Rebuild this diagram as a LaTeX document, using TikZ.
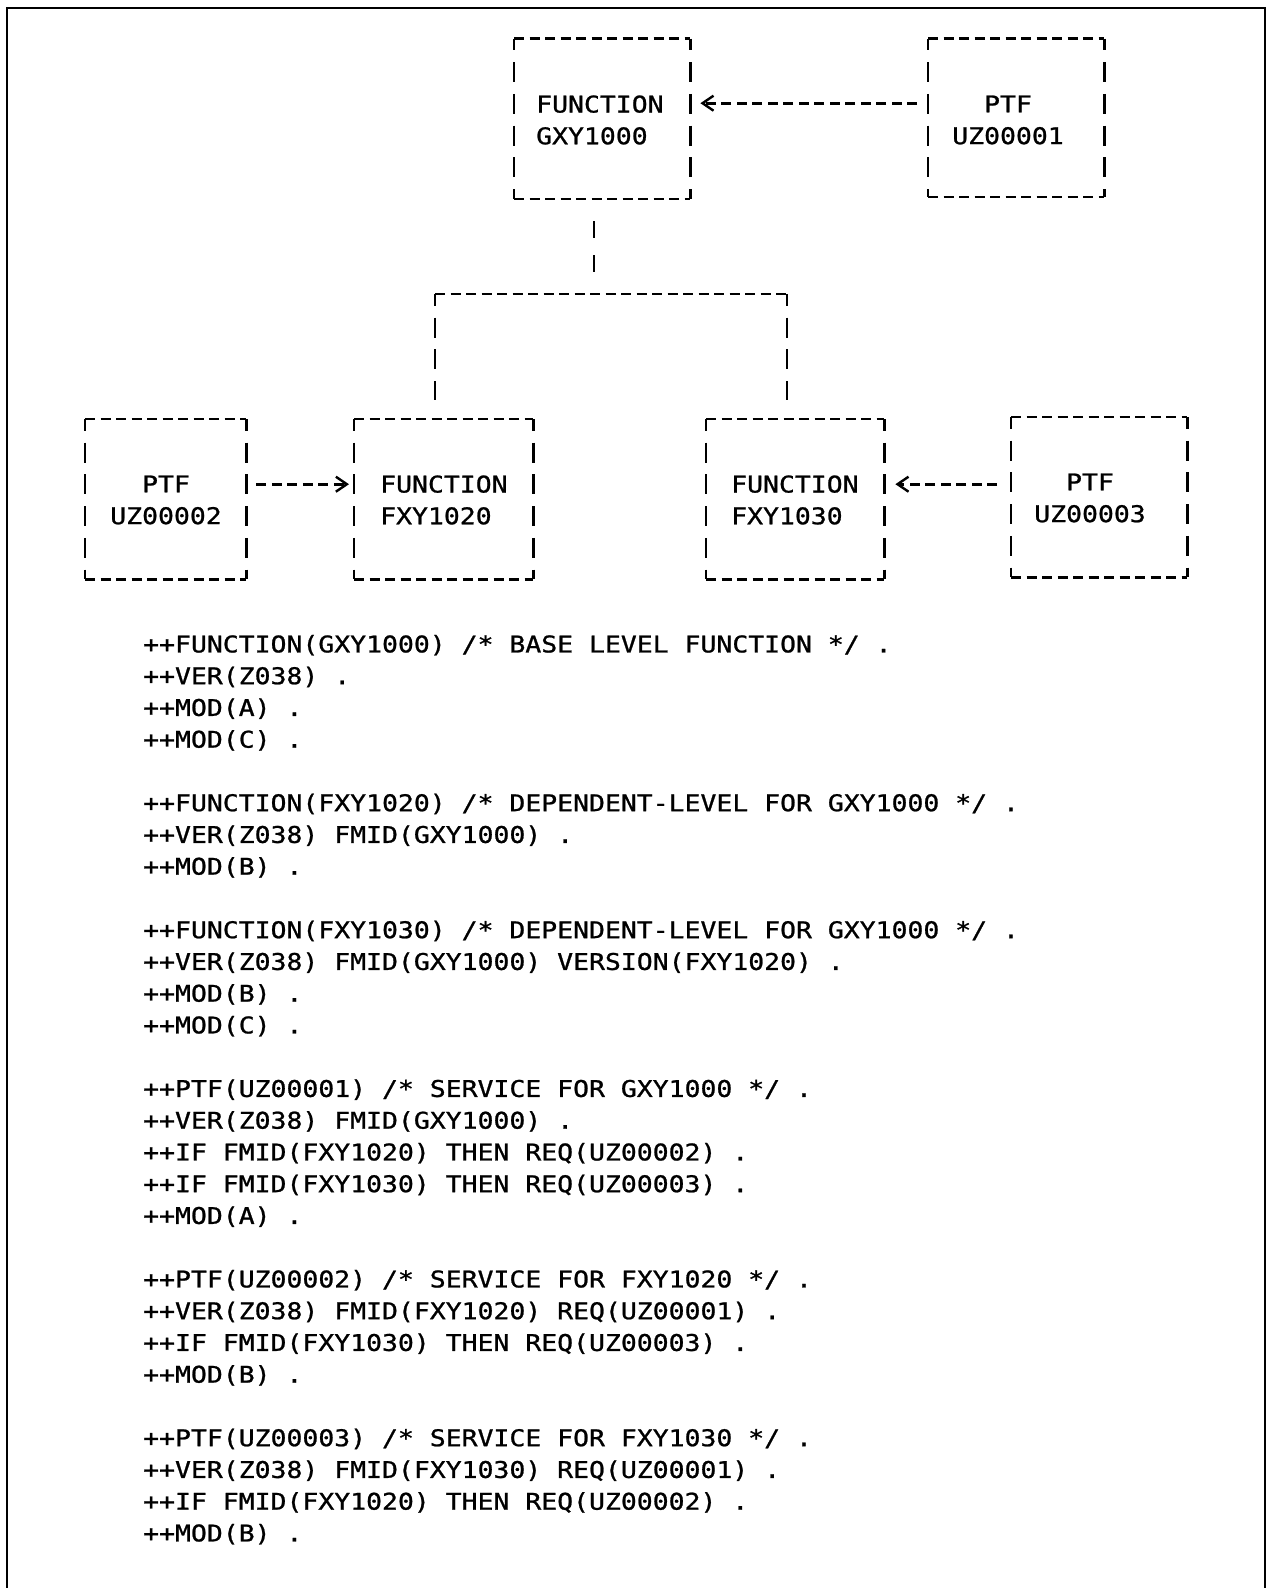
\documentclass[tikz,border=0pt]{standalone}
\usepackage{fontspec}
\newfontfamily\codefont[FakeStretch=1.15,FakeBold=1]{DejaVu Sans Mono}
\usetikzlibrary{arrows.meta}
\newcommand\dbox[1]{%
  \draw[hdash] (#1.north west) -- (#1.north east);
  \draw[hdash] (#1.south west) -- (#1.south east);
  \draw[vdash] (#1.north west) -- (#1.south west);
  \draw[vdash] (#1.north east) -- (#1.south east);}
\newcommand\cl[3]{\node[codeline] (#1) at (143,{652.4+31.75*#2}) {#3};}
\begin{document}
\begin{tikzpicture}[x=1pt,y=-1pt,
  hdash/.style={line width=2.8pt, dash pattern=on 10pt off 5.5pt},
  vdash/.style={line width=2.8pt, dash pattern=on 20pt off 11.75pt, dash phase=8.25pt},
  boxshape/.style={draw=none, rectangle, inner sep=0pt, anchor=north west, minimum height=160pt},
  lbl/.style={inner sep=0pt, font=\codefont\fontsize{23}{31.75}\selectfont},
  codeline/.style={anchor=base west, inner sep=0pt, font=\codefont\fontsize{23}{31.75}\selectfont},
  arrowline/.style={hdash, -{Straight Barb[length=11pt,width=15pt,line width=2.4pt]}}]
\useasboundingbox (0,0) rectangle (1271,1588);
% outer frame
\draw[line width=2.2pt] (7,1588) -- (7,8) -- (1265,8) -- (1265,1588);

% boxes
\node[boxshape, minimum width=176pt] (gxy) at (514,38.5) {};
\node[boxshape, minimum width=176pt, minimum height=158pt] (uz1) at (928,38.5) {};
\node[boxshape, minimum width=161pt] (uz2) at (85,419) {};
\node[boxshape, minimum width=179pt] (f20) at (354,419) {};
\node[boxshape, minimum width=178pt] (f30) at (706,419) {};
\node[boxshape, minimum width=176pt] (uz3) at (1011,417) {};
\dbox{gxy}\dbox{uz1}\dbox{uz2}\dbox{f20}\dbox{f30}\dbox{uz3}

% labels
\node[lbl, align=left, anchor=west] (gxyt) at (536,120) {FUNCTION\\GXY1000};
\node[lbl, align=center] (uz1t) at (1008,120) {PTF\\UZ00001};
\node[lbl, align=center] (uz2t) at (166,500) {PTF\\UZ00002};
\node[lbl, align=left, anchor=west] (f20t) at (380,500) {FUNCTION\\FXY1020};
\node[lbl, align=left, anchor=west] (f30t) at (731,500) {FUNCTION\\FXY1030};
\node[lbl, align=center] (uz3t) at (1090,498) {PTF\\UZ00003};

% arrows
\draw[arrowline, shorten <=11pt, shorten >=10pt] ([yshift=14.5pt]uz1.west) -- ([yshift=14.5pt]uz1.west -| gxy.east);
\draw[arrowline, shorten <=10pt, shorten >=5pt] ([yshift=15pt]uz2.east) -- ([yshift=15pt]uz2.east -| f20.west);
\draw[arrowline, shorten <=14pt, shorten >=11pt] ([yshift=15pt]f30.east -| uz3.west) -- ([yshift=15pt]f30.east);

% tree
\coordinate (stem) at (594,294);
\coordinate (bl) at (435,294);
\coordinate (br) at (787,294);
\coordinate (blb) at (435,400);
\coordinate (brb) at (787,400);
\draw[line width=2.8pt, dash pattern=on 0pt off 22.5pt on 17pt off 17pt on 17pt off 200pt] (stem |- gxy.south) -- (stem);
\draw[hdash] (bl) -- (br);
\draw[vdash] (bl) -- (blb);
\draw[vdash] (br) -- (brb);

% code
\cl{c0}{0}{++FUNCTION(GXY1000) /* BASE LEVEL FUNCTION */ .}
\cl{c1}{1}{++VER(Z038) .}
\cl{c2}{2}{++MOD(A) .}
\cl{c3}{3}{++MOD(C) .}
\cl{c5}{5}{++FUNCTION(FXY1020) /* DEPENDENT-LEVEL FOR GXY1000 */ .}
\cl{c6}{6}{++VER(Z038) FMID(GXY1000) .}
\cl{c7}{7}{++MOD(B) .}
\cl{c9}{9}{++FUNCTION(FXY1030) /* DEPENDENT-LEVEL FOR GXY1000 */ .}
\cl{c10}{10}{++VER(Z038) FMID(GXY1000) VERSION(FXY1020) .}
\cl{c11}{11}{++MOD(B) .}
\cl{c12}{12}{++MOD(C) .}
\cl{c14}{14}{++PTF(UZ00001) /* SERVICE FOR GXY1000 */ .}
\cl{c15}{15}{++VER(Z038) FMID(GXY1000) .}
\cl{c16}{16}{++IF FMID(FXY1020) THEN REQ(UZ00002) .}
\cl{c17}{17}{++IF FMID(FXY1030) THEN REQ(UZ00003) .}
\cl{c18}{18}{++MOD(A) .}
\cl{c20}{20}{++PTF(UZ00002) /* SERVICE FOR FXY1020 */ .}
\cl{c21}{21}{++VER(Z038) FMID(FXY1020) REQ(UZ00001) .}
\cl{c22}{22}{++IF FMID(FXY1030) THEN REQ(UZ00003) .}
\cl{c23}{23}{++MOD(B) .}
\cl{c25}{25}{++PTF(UZ00003) /* SERVICE FOR FXY1030 */ .}
\cl{c26}{26}{++VER(Z038) FMID(FXY1030) REQ(UZ00001) .}
\cl{c27}{27}{++IF FMID(FXY1020) THEN REQ(UZ00002) .}
\cl{c28}{28}{++MOD(B) .}
\end{tikzpicture}
\end{document}
